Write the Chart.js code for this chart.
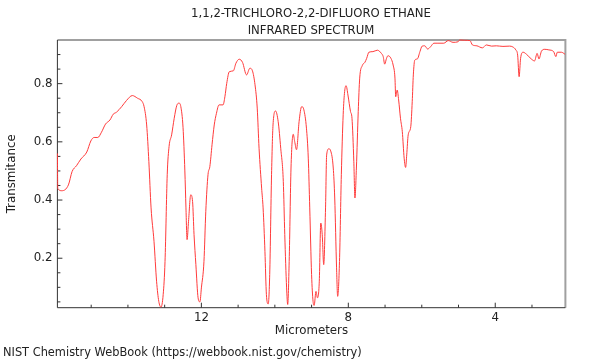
<!DOCTYPE html>
<html lang="en">
<head>
  <meta charset="UTF-8">
  <title>1,1,2-Trichloro-2,2-difluoro ethane • IR spectrum</title>
  <script src="https://cdn.jsdelivr.net/npm/chart.js"></script>
  <style>
    html, body {
      margin: 0;
      padding: 0;
      background: #fff;
      font-family: 'DejaVu Sans', sans-serif;
    }
    .wrap {
      position: relative;
      width: 600px;
      height: 360px;
      color: #222;
    }
    .wrap canvas {
      position: absolute;
      left: 0;
      top: 0;
    }
    .title {
      position: absolute;
      left: 57px;
      width: 508px;
      top: 4.5px;
      text-align: center;
      font-size: 11.7px;
      line-height: 17px;
    }
    .footer {
      position: absolute;
      left: 3px;
      top: 343.5px;
      font-size: 11.4px;
      line-height: 17px;
      white-space: nowrap;
    }
  </style>
</head>
<body>
  <div class="wrap">
    <canvas id="irChart" width="600" height="360"></canvas>
    <div class="title">1,1,2-TRICHLORO-2,2-DIFLUORO ETHANE<br>INFRARED SPECTRUM</div>
    <div class="footer">NIST Chemistry WebBook (https://webbook.nist.gov/chemistry)</div>
  </div>
  <script>
    const wavelength = [
      15.92, 15.91, 15.80, 15.62, 15.52, 15.40, 15.28, 15.12, 15.01, 14.92,
      14.82, 14.72, 14.61, 14.49, 14.40, 14.31, 14.17, 14.04, 13.88, 13.74,
      13.61, 13.56, 13.49, 13.43, 13.37, 13.29, 13.22, 13.16, 13.10, 13.04,
      12.99, 12.93, 12.88, 12.81, 12.74, 12.67, 12.61, 12.56, 12.50, 12.45,
      12.42, 12.39, 12.35, 12.29, 12.24, 12.20, 12.15, 12.09, 12.04, 12.00,
      11.93, 11.88, 11.82, 11.77, 11.71, 11.65, 11.59, 11.52, 11.41, 11.36,
      11.31, 11.24, 11.13, 11.06, 10.97, 10.88, 10.77, 10.68, 10.61, 10.54,
      10.48, 10.43, 10.36, 10.32, 10.27, 10.23, 10.18, 10.14, 10.09, 10.05,
      9.98, 9.91, 9.84, 9.77, 9.73, 9.68, 9.65, 9.61, 9.56, 9.50,
      9.46, 9.41, 9.34, 9.27, 9.21, 9.14, 9.09, 9.05, 9.00, 8.96,
      8.93, 8.88, 8.84, 8.79, 8.75, 8.71, 8.67, 8.62, 8.59, 8.53,
      8.48, 8.41, 8.37, 8.32, 8.29, 8.24, 8.19, 8.14, 8.10, 8.06,
      8.01, 7.94, 7.90, 7.85, 7.82, 7.78, 7.73, 7.69, 7.62, 7.55,
      7.50, 7.44, 7.33, 7.21, 7.10, 7.05, 7.01, 6.96, 6.92, 6.84,
      6.78, 6.73, 6.71, 6.67, 6.63, 6.58, 6.53, 6.48, 6.44, 6.41,
      6.37, 6.30, 6.26, 6.23, 6.19, 6.12, 6.05, 5.99, 5.92, 5.84,
      5.76, 5.67, 5.56, 5.40, 5.28, 5.15, 5.01, 4.97, 4.83, 4.69,
      4.62, 4.50, 4.35, 4.24, 4.10, 3.97, 3.79, 3.61, 3.52, 3.44,
      3.39, 3.35, 3.31, 3.24, 3.15, 3.02, 2.93, 2.86, 2.81, 2.74,
      2.65, 2.54, 2.41, 2.35, 2.31, 2.20, 2.10
    ];
    const transmittance = [
      0.56, 0.44, 0.432, 0.452, 0.498, 0.518, 0.541, 0.565, 0.603, 0.615,
      0.615, 0.633, 0.661, 0.675, 0.695, 0.702, 0.721, 0.742, 0.759, 0.75,
      0.738, 0.721, 0.658, 0.532, 0.373, 0.258, 0.121, 0.052, 0.032, 0.075,
      0.189, 0.487, 0.584, 0.624, 0.681, 0.725, 0.733, 0.721, 0.65, 0.50,
      0.373, 0.264, 0.327, 0.418, 0.395, 0.281, 0.178, 0.064, 0.05, 0.098,
      0.189, 0.361, 0.487, 0.515, 0.59, 0.658, 0.698, 0.727, 0.727, 0.755,
      0.801, 0.841, 0.844, 0.87, 0.884, 0.873, 0.83, 0.853, 0.844, 0.796,
      0.716, 0.578, 0.441, 0.373, 0.224, 0.075, 0.043, 0.144, 0.487, 0.658,
      0.706, 0.67, 0.578, 0.464, 0.281, 0.098, 0.041, 0.189, 0.51, 0.626,
      0.601, 0.573, 0.67, 0.721, 0.71, 0.647, 0.544, 0.373, 0.144, 0.052,
      0.038, 0.086, 0.064, 0.121, 0.321, 0.281, 0.178, 0.373, 0.555, 0.576,
      0.569, 0.51, 0.407, 0.167, 0.069, 0.189, 0.487, 0.693, 0.773, 0.793,
      0.761, 0.704, 0.681, 0.532, 0.407, 0.51, 0.704, 0.819, 0.862, 0.873,
      0.887, 0.908, 0.91, 0.915, 0.904, 0.893, 0.867, 0.887, 0.896, 0.887,
      0.864, 0.819, 0.755, 0.778, 0.744, 0.681, 0.635, 0.544, 0.512, 0.555,
      0.624, 0.652, 0.738, 0.83, 0.881, 0.885, 0.91, 0.929, 0.93, 0.919,
      0.927, 0.939, 0.939, 0.939, 0.948, 0.942, 0.944, 0.95, 0.949, 0.948,
      0.933, 0.93, 0.923, 0.933, 0.929, 0.93, 0.928, 0.929, 0.926, 0.916,
      0.898, 0.824, 0.887, 0.908, 0.901, 0.885, 0.878, 0.904, 0.885, 0.912,
      0.918, 0.916, 0.91, 0.893, 0.908, 0.908, 0.901
    ];

    const xTicks = [15, 14, 13, 12, 11, 10, 9, 8, 7, 6, 5, 4, 3];
    const xTickLabels = ['', '', '', '12', '', '', '', '8', '', '', '', '4', ''];
    const yTicks = [0.05, 0.1, 0.15, 0.2, 0.25, 0.3, 0.35, 0.4, 0.45, 0.5, 0.55, 0.6, 0.65, 0.7, 0.75, 0.8, 0.85, 0.9];
    const yTickLabels = ['', '', '', '0.2', '', '', '', '0.4', '', '', '', '0.6', '', '', '', '0.8', '', ''];

    const font = { family: "'DejaVu Sans', sans-serif", size: 11.8 };

    // frame + inward tick marks (long ones where a label sits), drawn under the trace
    const framePlugin = {
      id: 'frame',
      beforeDatasetsDraw(chart) {
        const { ctx, chartArea: a, scales } = chart;
        ctx.save();
        ctx.lineWidth = 2;
        ctx.strokeStyle = '#a0a0a0';
        ctx.beginPath();
        ctx.moveTo(a.left, a.top);
        ctx.lineTo(a.right, a.top);
        ctx.lineTo(a.right, a.bottom);
        ctx.stroke();

        ctx.lineWidth = 1;
        ctx.strokeStyle = '#333';
        ctx.beginPath();
        ctx.moveTo(a.left, a.top);
        ctx.lineTo(a.left, a.bottom);
        ctx.lineTo(a.right, a.bottom);
        xTicks.forEach((v, i) => {
          const px = scales.x.getPixelForValue(v);
          const len = xTickLabels[i] ? 5 : 3;
          ctx.moveTo(px, a.bottom);
          ctx.lineTo(px, a.bottom - len);
        });
        yTicks.forEach((v, i) => {
          const py = scales.y.getPixelForValue(v);
          const len = yTickLabels[i] ? 5 : 3;
          ctx.moveTo(a.left, py);
          ctx.lineTo(a.left + len, py);
        });
        ctx.stroke();
        ctx.restore();
      }
    };

    new Chart(document.getElementById('irChart'), {
      type: 'line',
      data: {
        datasets: [{
          data: wavelength.map((w, i) => ({ x: w, y: transmittance[i] })),
          borderColor: '#ff3b3b',
          borderWidth: 1,
          pointRadius: 0,
          cubicInterpolationMode: 'monotone',
          clip: 1,
          fill: false
        }]
      },
      options: {
        responsive: false,
        animation: false,
        events: [],
        layout: { padding: { top: 40, right: 34.6, bottom: 18, left: 0 } },
        plugins: { legend: { display: false }, tooltip: { enabled: false } },
        scales: {
          x: {
            type: 'linear',
            reverse: true,
            min: 2.09,
            max: 15.92,
            grid: { display: false, drawTicks: false },
            border: { display: false },
            afterBuildTicks: s => { s.ticks = xTicks.map(v => ({ value: v })); },
            afterFit: s => { s.height = 34.3; },
            ticks: {
              autoSkip: false,
              maxRotation: 0,
              padding: 3,
              color: '#222',
              font,
              callback: (v, i) => xTickLabels[i]
            },
            title: {
              display: true,
              text: 'Micrometers',
              color: '#222',
              font,
              padding: { top: 0, bottom: 3.5 }
            }
          },
          y: {
            min: 0.03,
            max: 0.95,
            grid: { display: false, drawTicks: false },
            border: { display: false },
            afterBuildTicks: s => { s.ticks = yTicks.map(v => ({ value: v })); },
            afterFit: s => { s.width = 57.4; },
            ticks: {
              autoSkip: false,
              padding: 5,
              color: '#222',
              font,
              callback: (v, i) => yTickLabels[i]
            },
            title: {
              display: true,
              text: 'Transmitance',
              color: '#222',
              font,
              padding: { top: 4.5, bottom: 0 }
            }
          }
        }
      },
      plugins: [framePlugin]
    });
  </script>
</body>
</html>
